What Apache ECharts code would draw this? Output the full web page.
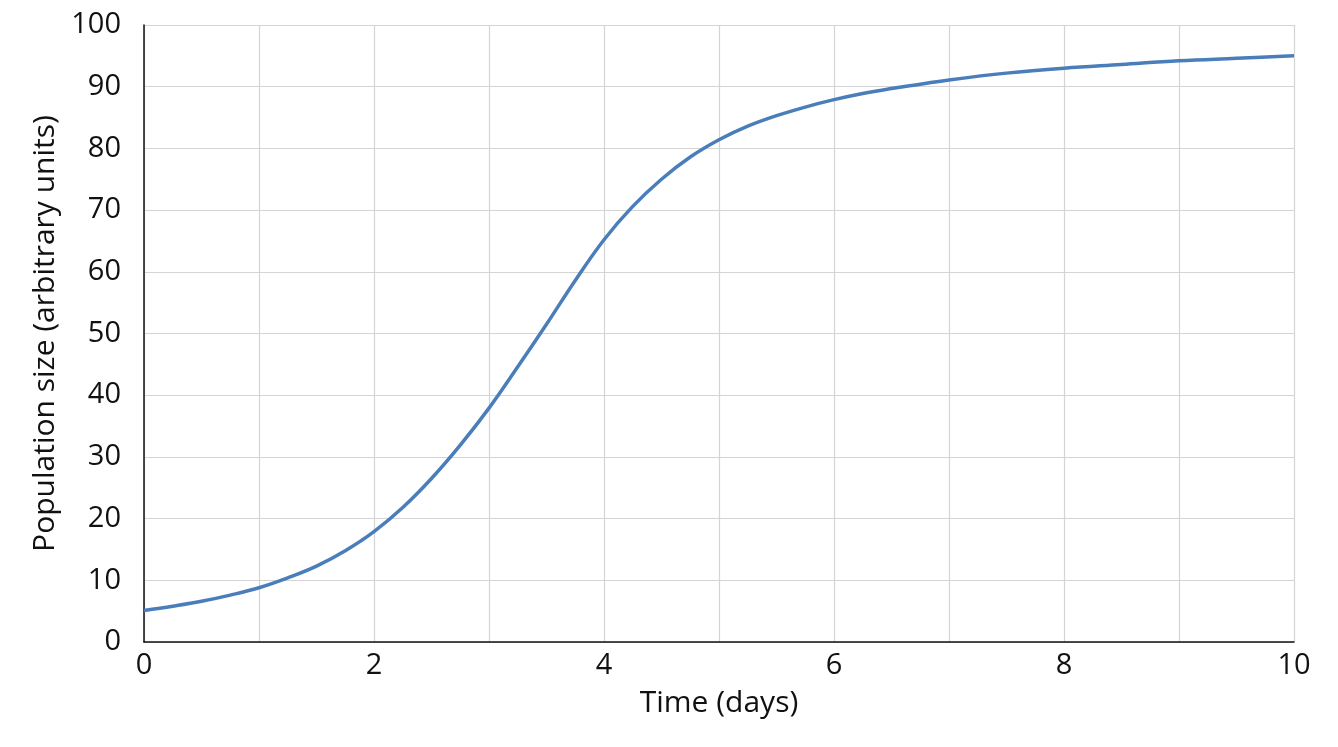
<!DOCTYPE html>
<html>
<head>
<meta charset="utf-8">
<script src="https://cdn.jsdelivr.net/npm/echarts@6/dist/echarts.min.js"></script>
<style>html,body{margin:0;padding:0;background:#fff}#c{width:1338px;height:747px}</style>
</head>
<body>
<div id="c"></div>
<script>
const days = [0,0.25,0.5,0.75,1,1.25,1.5,1.75,2,2.25,2.5,2.75,3,3.25,3.5,3.75,4,4.25,4.5,4.75,5,5.25,5.5,5.75,6,6.25,6.5,6.75,7,7.5,8,8.5,9,9.5,10];
const population = [5.1,5.8,6.6,7.6,8.8,10.4,12.3,14.8,17.9,21.8,26.5,31.9,37.9,44.6,51.5,58.6,65.2,70.6,75.0,78.6,81.4,83.6,85.3,86.7,87.9,88.9,89.7,90.4,91.1,92.2,93.0,93.6,94.2,94.6,95.0];
const xTickLabels = ['0','2','4','6','8','10'];

const font = '"Open Sans", "Noto Sans", sans-serif';
const chart = echarts.init(document.getElementById('c'), null, {renderer:'canvas'});
chart.setOption({
  animation:false,
  grid:{left:144, right:44, top:25, bottom:105, containLabel:false},
  xAxis:{
    type:'value', min:0, max:10, interval:1,
    name:'Time (days)', nameLocation:'middle', nameGap:46,
    nameTextStyle:{fontFamily:font, fontSize:30, color:'#111'},
    axisLine:{show:true, lineStyle:{color:'#111', width:1.5}},
    axisTick:{show:false},
    axisLabel:{fontFamily:font, fontSize:29, color:'#111', margin:9,
      formatter:v=>xTickLabels.includes(String(v))?String(v):''},
    splitLine:{show:true, lineStyle:{color:'#d4d4d4', width:1.2}}
  },
  yAxis:{
    type:'value', min:0, max:100, interval:10,
    name:'Population size (arbitrary units)', nameLocation:'middle', nameGap:84,
    nameTextStyle:{fontFamily:font, fontSize:30, color:'#111'},
    axisLine:{show:true, lineStyle:{color:'#111', width:1.5}},
    axisTick:{show:false},
    axisLabel:{fontFamily:font, fontSize:29, color:'#111', margin:23},
    splitLine:{show:true, lineStyle:{color:'#d4d4d4', width:1.2}}
  },
  series:[{
    type:'line', smooth:0.4, showSymbol:false,
    data:days.map((d,i)=>[d,population[i]]),
    lineStyle:{color:'#4a7ebb', width:3.5}
  }]
});
</script>
</body>
</html>
